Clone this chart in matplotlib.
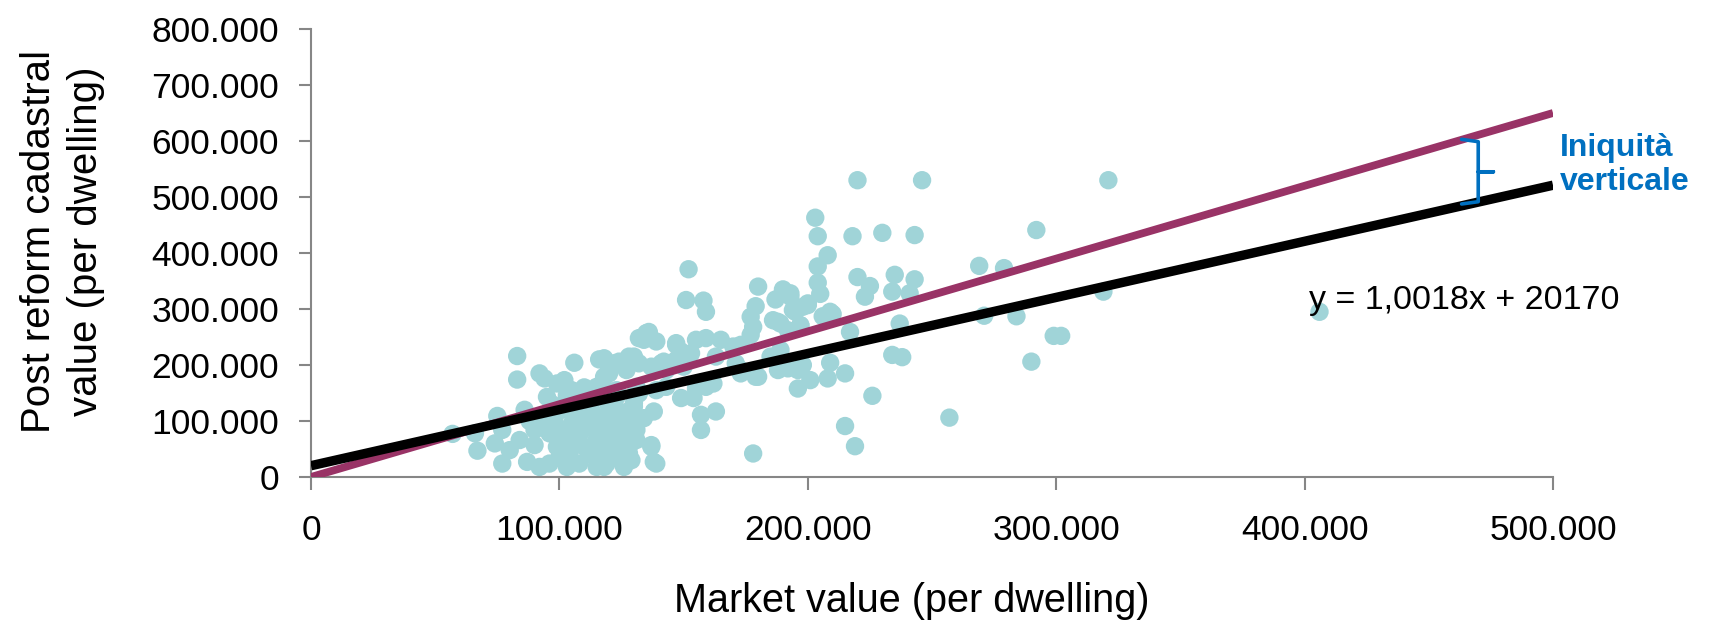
import numpy as np
import matplotlib.pyplot as plt
from matplotlib.ticker import FuncFormatter

plt.rcParams['font.family'] = ['Liberation Sans', 'DejaVu Sans']

# market value / post reform cadastral value, in thousands
market_k = [
    321, 246, 220, 203, 204, 218, 230, 243, 208, 204, 204, 205, 220, 225, 223, 235, 243, 234, 241, 237,
    217, 206, 210, 190, 193, 187, 200, 198, 195, 188, 197, 192, 234, 238, 209, 215, 208, 201, 198, 192,
    196, 226, 257, 215, 219, 189, 292, 269, 279, 271, 284, 319, 299, 302, 290, 406,
    152, 180, 193, 151, 158, 159, 179, 177, 178, 186, 194, 200, 209, 189, 197, 136, 134, 139, 147, 155,
    159, 165, 173, 149, 153, 130, 124, 118, 120, 132, 141, 163, 171, 173, 180, 190, 196, 162, 155, 149,
    154, 163, 157, 157, 138, 132, 137, 139, 178, 130, 124, 119, 123, 118, 127, 120, 128, 131, 143, 150,
    132, 135, 128, 122, 147, 170, 177, 185, 179, 173, 188, 159, 134, 131, 124, 122, 127, 131, 137, 138,
    124, 128, 119, 118, 126, 119, 123, 132, 139, 143, 124, 130, 120, 120, 127, 137, 142, 147,
    83, 83, 92, 94, 99, 102, 106, 116, 95, 103, 75, 86, 57, 66, 67, 74, 77, 77, 80, 84,
    90, 90, 92, 87, 96, 102, 107, 110, 112, 99, 104, 110, 115, 118, 96, 103, 108, 115, 119, 118, 115,
    98, 101, 105, 108, 111, 113, 106, 100, 112, 116, 119, 122, 125, 129, 105, 110, 114, 120, 117, 93,
    97, 104, 88, 126, 112, 108, 100, 94, 121, 128,
]
cadastral_k = [
    530, 530, 530, 463, 430, 430, 436, 432, 396, 376, 347, 327, 357, 341, 322, 361, 353, 331, 328, 274,
    259, 287, 291, 335, 322, 317, 310, 304, 295, 277, 271, 262, 218, 214, 204, 185, 176, 173, 200, 194,
    158, 145, 106, 91, 55, 227, 441, 377, 373, 288, 287, 331, 252, 252, 206, 295,
    371, 340, 328, 316, 315, 295, 305, 286, 268, 280, 298, 307, 295, 274, 271, 259, 245, 242, 236, 245,
    248, 245, 236, 224, 221, 215, 206, 212, 194, 203, 203, 215, 203, 185, 179, 197, 191, 167, 158, 141,
    141, 117, 111, 84, 117, 102, 54, 24, 42, 132, 117, 138, 155, 158, 78, 66, 54, 161, 191, 197,
    248, 257, 215, 203, 239, 233, 254, 215, 179, 191, 191, 161, 105, 84, 84, 66, 66, 66, 57, 27,
    36, 42, 48, 18, 18, 155, 143, 149, 155, 161, 114, 126, 126, 185, 191, 197, 206, 209,
    216, 174, 185, 176, 167, 173, 204, 210, 143, 146, 109, 120, 77, 78, 47, 60, 84, 24, 48, 66,
    84, 57, 18, 27, 78, 84, 108, 126, 143, 54, 60, 54, 66, 90, 24, 18, 24, 18, 24, 179, 161,
    100, 120, 95, 75, 100, 118, 135, 62, 40, 105, 82, 98, 50, 30, 155, 160, 140, 110, 45, 110,
    130, 40, 100, 95, 88, 150, 35, 92, 140, 118,
]

x_ticks = [0, 100000, 200000, 300000, 400000, 500000]
y_ticks = [0, 100000, 200000, 300000, 400000, 500000, 600000, 700000, 800000]

# trend line (Excel) and equity line
reg_slope, reg_intercept = 1.0018, 20170
equity_slope = 1.3
brace_x = [463200, 469900, 469900, 476000, 469900, 469900, 463200]
brace_y = [603000, 598800, 545000, 545000, 545000, 491600, 487500]

x = np.array(market_k) * 1000
y = np.array(cadastral_k) * 1000

fig = plt.figure(figsize=(17.13, 6.23), dpi=100)
ax = fig.add_axes([311 / 1713, 1 - 477 / 623, (1553 - 311) / 1713, (477 - 29) / 623])

ax.scatter(x, y, s=175, color='#a0d4d8', edgecolors='none', zorder=2)

xl = np.array([0, 500000])
ax.plot(xl, equity_slope * xl, color='#993366', lw=5.6, solid_capstyle='butt', zorder=3)
ax.plot(xl, reg_slope * xl + reg_intercept, color='black', lw=6.8, solid_capstyle='butt', zorder=4)

# brace marking the gap between the two lines
ax.plot(brace_x, brace_y, color='#0070c0', lw=2.6, solid_joinstyle='round',
        solid_capstyle='round', clip_on=False, zorder=5)

ax.text(401800, 316000, 'y = 1,0018x + 20170', fontsize=24.5, ha='left', va='center', zorder=6)

ax.set_xlim(0, 500000)
ax.set_ylim(0, 800000)
ax.set_xticks(x_ticks)
ax.set_yticks(y_ticks)
fmt = FuncFormatter(lambda v, p: f'{int(v):,}'.replace(',', '.'))
ax.xaxis.set_major_formatter(fmt)
ax.yaxis.set_major_formatter(fmt)
ax.tick_params(axis='both', direction='out', length=9, width=1.5, color='#868686',
               labelsize=25.5, labelcolor='black')
ax.tick_params(axis='x', pad=18)
ax.tick_params(axis='y', pad=14)

for s in ['top', 'right']:
    ax.spines[s].set_visible(False)
for s in ['left', 'bottom']:
    ax.spines[s].set_color('#868686')
    ax.spines[s].set_linewidth(1.5)

fig.text(912 / 1713, 1 - 601 / 623, 'Market value (per dwelling)', fontsize=28.5,
         ha='center', va='center')
fig.text(63 / 1713, 1 - 241 / 623, 'Post reform cadastral\nvalue (per dwelling)', fontsize=29,
         ha='center', va='center', rotation=90, multialignment='center', linespacing=1.3)
fig.text(1560 / 1713, 1 - 165 / 623, 'Iniquità\nverticale', fontsize=23, fontweight='bold',
         color='#0070c0', ha='left', va='center', linespacing=1.15)

fig.savefig('out.png', dpi=100)
